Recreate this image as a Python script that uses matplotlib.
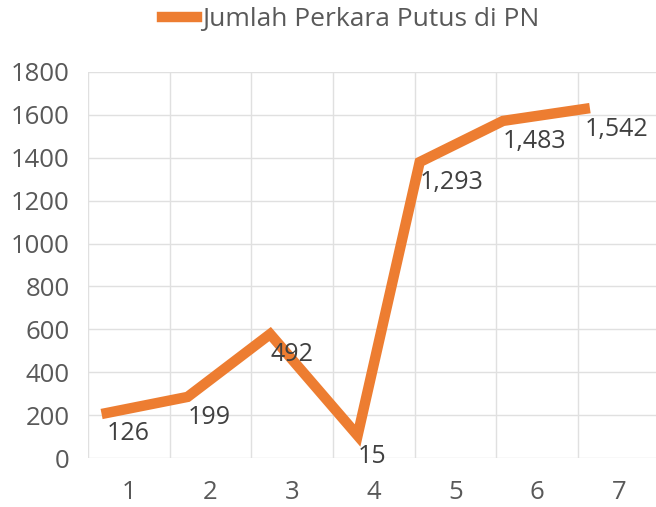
import matplotlib
matplotlib.use('Agg')
import matplotlib.pyplot as plt

# dati
categorie = [1, 2, 3, 4, 5, 6, 7]
x_punti = [0.73, 1.72, 2.73, 3.80, 4.56, 5.58, 6.58]
valori = [210, 285, 578, 105, 1380, 1572, 1628]
etichette = ["126", "199", "492", "15", "1,293", "1,483", "1,542"]
serie = "Jumlah Perkara Putus di PN"

arancio = '#ED7D31'
grigio = '#595959'
plt.rcParams['font.family'] = ['Open Sans', 'DejaVu Sans']

fig = plt.figure(figsize=(6.56, 5.07), dpi=100)
ax = fig.add_axes([0.134, 0.0966, 0.872, 0.7614])

ax.plot(x_punti, valori, color=arancio, linewidth=7.5, solid_joinstyle='miter', label=serie)

# etichette dei valori sotto a destra dei punti
for x, y, t in zip(x_punti, valori, etichette):
    ax.annotate(t, (x, y), xytext=(0, -6), textcoords='offset points',
                ha='left', va='top', fontsize=18, color='#404040')

ax.set_xlim(0.5, 7.5)
ax.set_ylim(0, 1800)
ax.set_xticks(categorie)
ax.set_yticks(range(0, 1801, 200))
ax.set_xticks([c + 0.5 for c in [0] + categorie], minor=True)
ax.grid(False)
ax.yaxis.grid(True, color='#E0E0E0', linewidth=1)
ax.xaxis.grid(True, which='minor', color='#E0E0E0', linewidth=1)
ax.set_axisbelow(True)
for s in ax.spines.values():
    s.set_visible(False)
ax.tick_params(which='both', length=0)
ax.tick_params(axis='y', labelsize=18.5, labelcolor=grigio, pad=13)
ax.tick_params(axis='x', labelsize=18.5, labelcolor=grigio, pad=16)

fig.legend(loc='center', bbox_to_anchor=(0.535, 0.962), frameon=False,
           fontsize=19, labelcolor=grigio, handlelength=1.3, handletextpad=0.2)

fig.savefig('out.png', dpi=100)
